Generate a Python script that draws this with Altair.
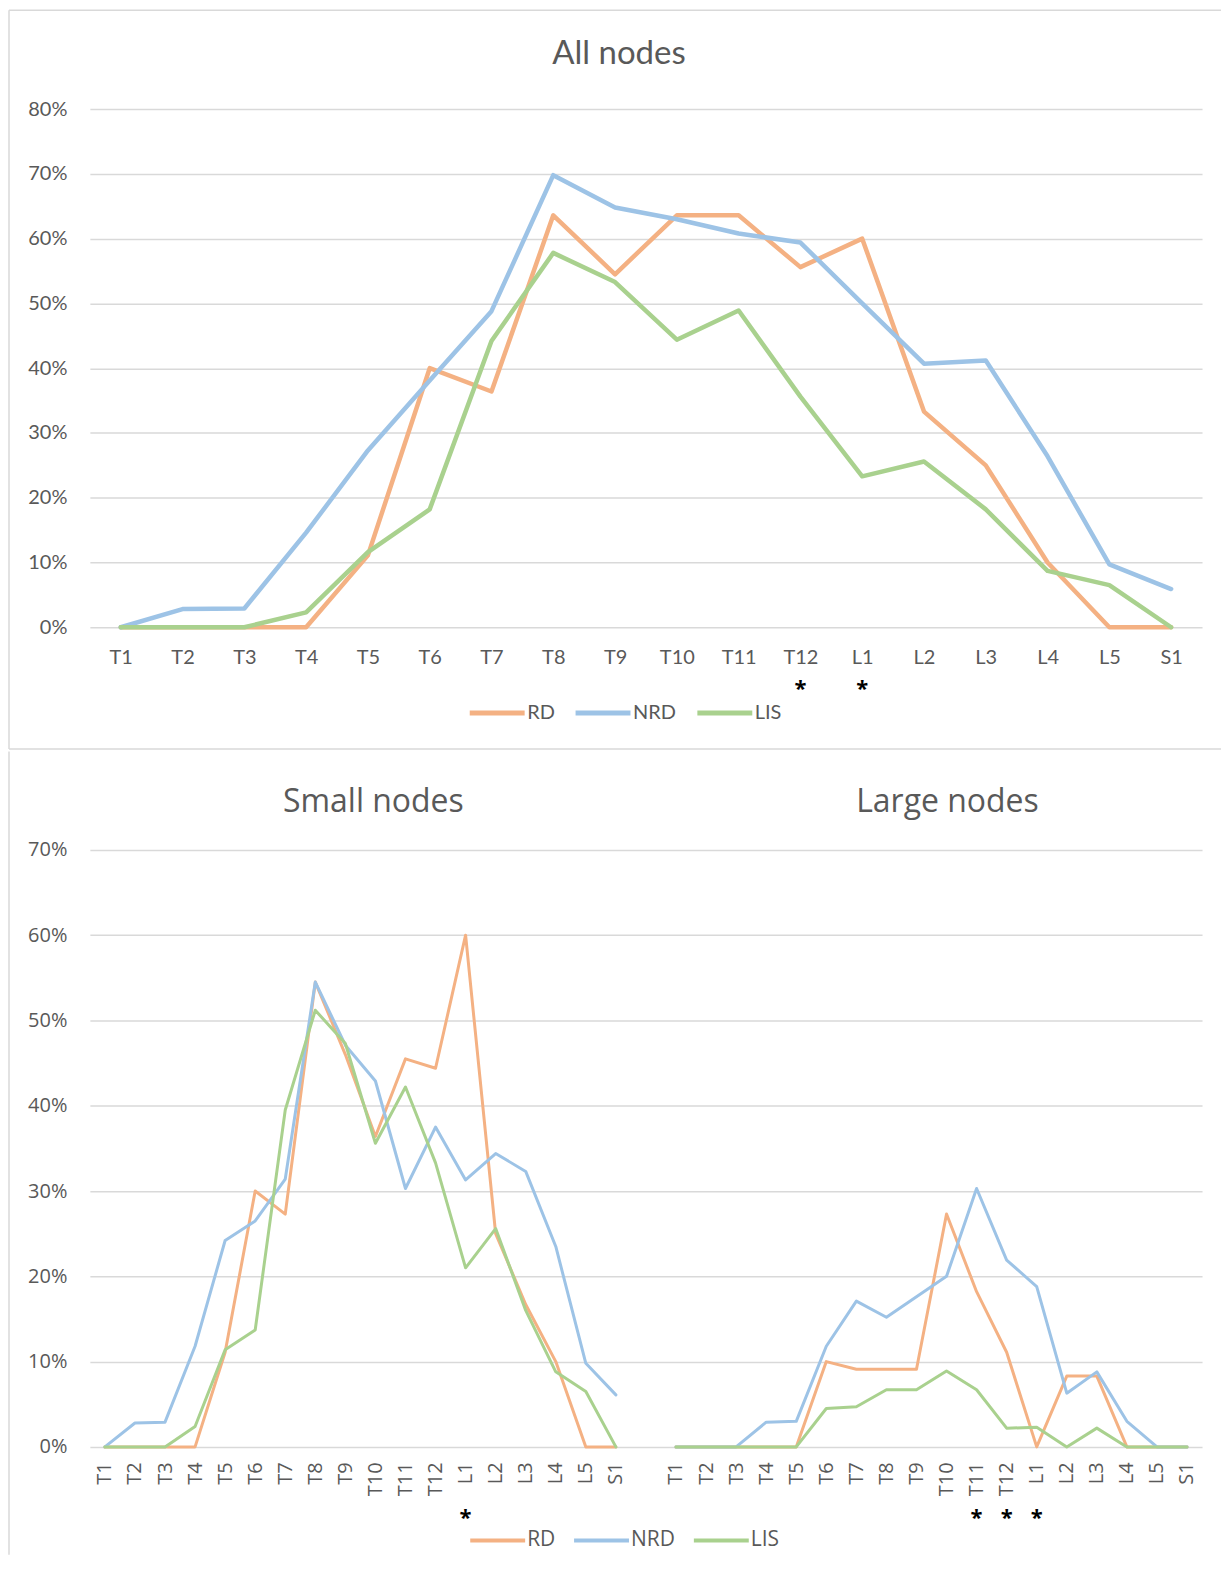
import altair as alt
import pandas as pd

categories = ["T1", "T2", "T3", "T4", "T5", "T6", "T7", "T8", "T9", "T10",
              "T11", "T12", "L1", "L2", "L3", "L4", "L5", "S1"]
series = ["RD", "NRD", "LIS"]
colors = ["#F4B183", "#9DC3E6", "#A9D18E"]

# All nodes (%)
all_rd = [0, 0, 0, 0, 11.1, 40.0, 36.4, 63.6, 54.5, 63.6, 63.6, 55.6, 60.0, 33.3, 25.0, 10.0, 0, 0]
all_nrd = [0, 2.8, 2.9, 14.6, 27.3, 38.1, 48.8, 69.8, 64.8, 63.0, 60.8, 59.4, 50.0, 40.7, 41.2, 26.4, 9.7, 5.9]
all_lis = [0, 0, 0, 2.3, 11.6, 18.2, 44.2, 57.8, 53.3, 44.4, 48.9, 35.6, 23.3, 25.6, 18.2, 8.7, 6.5, 0]

# Small nodes (%)
small_rd = [0, 0, 0, 0, 11.1, 30.0, 27.3, 54.5, 46.0, 36.4, 45.5, 44.4, 60.0, 25.0, 16.7, 10.0, 0, 0]
small_nrd = [0, 2.8, 2.9, 11.8, 24.2, 26.5, 31.4, 54.5, 47.1, 42.9, 30.3, 37.5, 31.3, 34.4, 32.3, 23.5, 9.8, 6.1]
small_lis = [0, 0, 0, 2.4, 11.4, 13.7, 39.5, 51.2, 47.3, 35.6, 42.2, 33.3, 21.0, 25.6, 16.0, 8.8, 6.5, 0]

# Large nodes (%)
large_rd = [0, 0, 0, 0, 0, 10.0, 9.1, 9.1, 9.1, 27.3, 18.2, 11.1, 0, 8.3, 8.3, 0, 0, 0]
large_nrd = [0, 0, 0, 2.9, 3.0, 11.8, 17.1, 15.2, 17.6, 20.0, 30.3, 21.9, 18.8, 6.3, 8.8, 3.0, 0, 0]
large_lis = [0, 0, 0, 0, 0, 4.5, 4.7, 6.7, 6.7, 8.9, 6.7, 2.2, 2.3, 0, 2.2, 0, 0, 0]

all_starred = ["T12", "L1"]
small_starred = ["L1"]
large_starred = ["T11", "T12", "L1"]

GREY = "#595959"
GRID = "#D9D9D9"
BORDER = "#D9D9D9"

# ---------------- top panel ----------------
W1, H1 = 1114, 519
rows = []
for s, vals in zip(series, [all_rd, all_nrd, all_lis]):
    for i, (c, v) in enumerate(zip(categories, vals)):
        rows.append({"cat": c, "series": s, "value": v / 100.0, "ord": i})
top_df = pd.DataFrame(rows)

x_top_scale = alt.Scale(type="point", domain=categories, padding=0.5)
x_top_axis = alt.Axis(title=None, labelAngle=0, labelFont="Lato", labelFontSize=20,
                      labelColor=GREY, labelPadding=20, ticks=False, domain=False, grid=False,
                      labelOverlap=False)
color_scale = alt.Scale(domain=series, range=colors)
one = alt.Data(values=[{}])

top_lines = alt.Chart(top_df).mark_line(
    strokeWidth=4.5, strokeCap="round", strokeJoin="round"
).encode(
    x=alt.X("cat:N", scale=x_top_scale, axis=x_top_axis),
    y=alt.Y("value:Q", scale=alt.Scale(domain=[0, 0.8], nice=False),
            axis=alt.Axis(title=None, values=[i / 10 for i in range(9)], format=".0%",
                          labelFont="Lato", labelFontSize=20, labelColor=GREY, labelPadding=23,
                          ticks=False, domain=False, gridColor=GRID, gridWidth=1.5)),
    color=alt.Color("series:N", scale=color_scale,
                    legend=alt.Legend(title=None, orient="none", legendX=378, legendY=575,
                                      direction="horizontal", symbolType="stroke",
                                      symbolSize=3025, symbolStrokeWidth=5,
                                      labelFont="Lato", labelFontSize=20, labelColor=GREY,
                                      labelOffset=0, columnPadding=10, padding=0)),
    order="ord:Q",
)

top_stars = alt.Chart(pd.DataFrame({"cat": all_starred})).mark_text(
    fontSize=22, font="Open Sans", fontWeight="bold", color="#000000", baseline="middle"
).encode(x=alt.X("cat:N", scale=x_top_scale, axis=x_top_axis), y=alt.value(H1 + 62),
         text=alt.value("*"))

top_title = alt.Chart(one).mark_text(
    font="Lato", fontSize=33, color=GREY, align="center", baseline="middle"
).encode(x=alt.value(530), y=alt.value(-55), text=alt.value("All nodes"))

tb_top = alt.Chart(one).mark_rule(color=BORDER, strokeWidth=1.5).encode(
    x=alt.value(-81), x2=alt.value(W1 + 19), y=alt.value(-99))
tb_left = alt.Chart(one).mark_rule(color=BORDER, strokeWidth=1.5).encode(
    x=alt.value(-81), y=alt.value(-99), y2=alt.value(H1 + 122))
tb_bottom = alt.Chart(one).mark_rule(color=BORDER, strokeWidth=1.5).encode(
    x=alt.value(-81), x2=alt.value(W1 + 19), y=alt.value(H1 + 122))

top = alt.layer(tb_top, tb_left, tb_bottom, top_lines, top_stars, top_title).properties(
    width=W1, height=H1)

# ---------------- bottom panel ----------------
W2, H2 = 1114, 598
GAP = 19  # large-node block starts one empty slot after the small-node block
rows = []
for panel, offset, data in [("small", 0, [small_rd, small_nrd, small_lis]),
                            ("large", GAP, [large_rd, large_nrd, large_lis])]:
    for s, vals in zip(series, data):
        for i, v in enumerate(vals):
            rows.append({"pos": i + offset, "series": s, "panel": panel, "value": v / 100.0})
bot_df = pd.DataFrame(rows)

x_bot_scale = alt.Scale(domain=[-0.5, 2 * len(categories) + 0.5], nice=False, zero=False)
label_list = "[" + ",".join("'%s'" % c for c in categories) + "]"
tick_positions = list(range(len(categories))) + [i + GAP for i in range(len(categories))]
x_bot_axis = alt.Axis(title=None, values=tick_positions,
                      labelExpr=label_list + "[datum.value % " + str(GAP) + "]",
                      labelAngle=270, labelAlign="right", labelBaseline="middle",
                      labelFont="Open Sans", labelFontSize=20, labelColor=GREY,
                      labelPadding=15, ticks=False, domain=False, grid=False,
                      labelOverlap=False)

bot_lines = alt.Chart(bot_df).mark_line(
    strokeWidth=3, strokeCap="round", strokeJoin="round"
).encode(
    x=alt.X("pos:Q", scale=x_bot_scale, axis=x_bot_axis),
    y=alt.Y("value:Q", scale=alt.Scale(domain=[0, 0.7], nice=False),
            axis=alt.Axis(title=None, values=[i / 10 for i in range(8)], format=".0%",
                          labelFont="Open Sans", labelFontSize=20, labelColor=GREY,
                          labelPadding=23, ticks=False, domain=False, gridColor=GRID,
                          gridWidth=1.5)),
    color=alt.Color("series:N", scale=color_scale,
                    legend=alt.Legend(title=None, orient="none", legendX=379, legendY=662,
                                      direction="horizontal", symbolType="stroke",
                                      symbolSize=3025, symbolStrokeWidth=4,
                                      labelFont="Open Sans", labelFontSize=21, labelColor=GREY,
                                      labelOffset=0, columnPadding=10, padding=0)),
    detail="panel:N",
    order="pos:Q",
)

star_pos = [categories.index(c) for c in small_starred] + \
           [categories.index(c) + GAP for c in large_starred]
bot_stars = alt.Chart(pd.DataFrame({"pos": star_pos})).mark_text(
    fontSize=22, font="Open Sans", fontWeight="bold", color="#000000", baseline="middle"
).encode(x=alt.X("pos:Q", scale=x_bot_scale, axis=x_bot_axis), y=alt.value(H2 + 71),
         text=alt.value("*"))

small_title = alt.Chart(one).mark_text(
    font="Open Sans", fontSize=32, color=GREY, align="center", baseline="middle"
).encode(x=alt.value(284), y=alt.value(-48), text=alt.value("Small nodes"))
large_title = alt.Chart(one).mark_text(
    font="Open Sans", fontSize=32, color=GREY, align="center", baseline="middle"
).encode(x=alt.value(859), y=alt.value(-48), text=alt.value("Large nodes"))

bb_top = alt.Chart(one).mark_rule(color=BORDER, strokeWidth=1.5, opacity=0).encode(
    x=alt.value(-81), x2=alt.value(W2 + 19), y=alt.value(-98.5))
bb_left = alt.Chart(one).mark_rule(color=BORDER, strokeWidth=1.5).encode(
    x=alt.value(-81), y=alt.value(-98.5), y2=alt.value(H2 + 108))

bottom = alt.layer(bb_top, bb_left, bot_lines, bot_stars, small_title, large_title).properties(
    width=W2, height=H2)

chart = alt.vconcat(top, bottom, spacing=0).resolve_scale(
    color="independent"
).resolve_legend(
    color="independent"
).properties(
    padding=0, background="white"
).configure_view(stroke=None)

chart.save("out.html", embed_options={"renderer": "svg", "actions": False})
